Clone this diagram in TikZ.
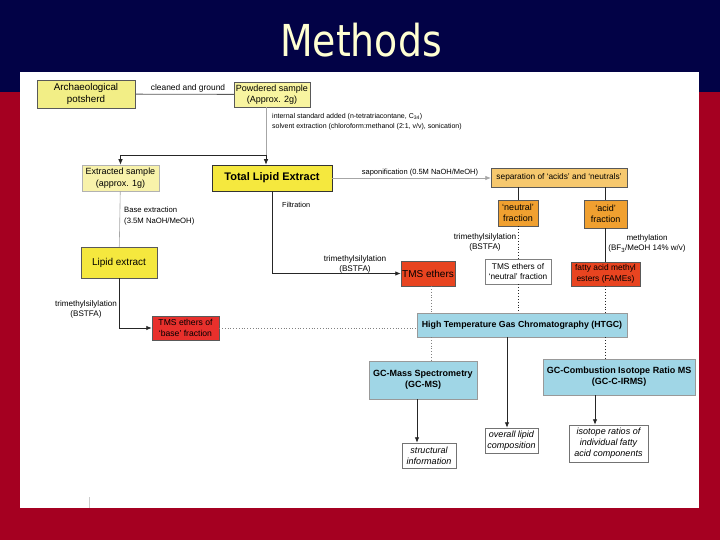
\documentclass[tikz,border=0pt]{standalone}
\usepackage{fontspec}
\setmainfont{Liberation Sans}
\newfontfamily\titlefont[FakeStretch=0.86]{DejaVu Sans}
\usetikzlibrary{arrows.meta, positioning}
\definecolor{navy}{HTML}{020246}
\definecolor{crim}{HTML}{A50021}
\definecolor{ttlcol}{HTML}{FFFFD2}
\definecolor{yelA}{HTML}{F2EE86}
\definecolor{yelB}{HTML}{F8F4A0}
\definecolor{yelC}{HTML}{F8F2AA}
\definecolor{yelD}{HTML}{F5E83E}
\definecolor{orgA}{HTML}{F6C86E}
\definecolor{orgB}{HTML}{F0A030}
\definecolor{redA}{HTML}{E84420}
\definecolor{redB}{HTML}{E8302C}
\definecolor{blu}{HTML}{A0D6E6}
\begin{document}
\begin{tikzpicture}[x=1pt, y=-1pt,
  box/.style={draw=black!65, line width=0.5pt, inner sep=0.5pt, align=center,
              font=\fontsize{9}{11}\selectfont},
  wh/.style 2 args={minimum width=#1pt, minimum height=#2pt},
  res/.style={box, fill=white, draw=black!55, font=\fontsize{9}{11}\selectfont\itshape},
  lbl/.style={inner sep=0pt, align=center, font=\fontsize{7.6}{10}\selectfont},
  arr/.style={-{Latex[length=5.5pt,width=4.5pt]}, line width=0.8pt, black!85},
  ln/.style={line width=0.8pt, black!85},
  gln/.style={line width=0.6pt, gray!70},
  dotgray/.style={dotted, line width=0.8pt, gray},
  dotdark/.style={dotted, line width=0.9pt, black!85}
]
\useasboundingbox (0,0) rectangle (720,540);
% slide background
\fill[navy] (0,0) rectangle (720,92);
\fill[crim] (0,92) rectangle (720,540);
\fill[white] (20,72) rectangle (699,508);
\node[text=ttlcol, anchor=base, font=\titlefont\fontsize{44}{50}\selectfont] (ttl) at (361,57) {Methods};

% sample preparation
\node[box, fill=yelA, wh={98}{28}, font=\fontsize{9.8}{12}\selectfont] (arch) at (86,94) {Archaeological\\potsherd};
\node[box, fill=yelB, wh={76}{25}] (pow) at (272,94.5) {Powdered sample\\(Approx. 2g)};
\node[box, fill=yelC, draw=black!30, wh={77}{26}, font=\fontsize{9}{12}\selectfont] (ext) at (120.5,178) {Extracted sample\\(approx. 1g)};
\node[box, fill=yelD, draw=black!80, wh={120}{26}, font=\fontsize{11}{13}\selectfont\bfseries] (tle) at (272,178) {Total Lipid Extract};
\node[box, fill=yelD, wh={76}{31}, font=\fontsize{10}{12}\selectfont] (lip) at (119,262.5) {Lipid extract};
\node[box, fill=redB, wh={67}{24}, font=\fontsize{8.6}{10.5}\selectfont] (tmsb) at (185.5,328) {TMS ethers of\\`base' fraction};
\node[box, fill=redA, wh={54}{25}, font=\fontsize{10}{12}\selectfont] (tms) at (428,273.5) {TMS ethers};

% acids and neutrals
\node[box, fill=orgA, wh={136}{19}, font=\fontsize{8.3}{10}\selectfont] (sep) at (559,177.5) {separation of `acids' and `neutrals'};
\node[box, fill=orgB, wh={40}{26}] (neu) at (518,213) {`neutral'\\fraction};
\node[box, fill=orgB, wh={43}{28}] (acid) at (605.5,214) {`acid'\\fraction};
\node[box, fill=white, draw=black!50, wh={66}{25}, font=\fontsize{8.3}{10.5}\selectfont] (tmsn) at (518,271.5) {TMS ethers of\\`neutral' fraction};
\node[box, fill=redA, wh={69}{24}, font=\fontsize{8.4}{10.5}\selectfont] (fame) at (605.5,274) {fatty acid methyl\\esters (FAMEs)};

% analysis
\node[box, fill=blu, draw=black!40, wh={210}{24}, font=\fontsize{8.8}{11}\selectfont\bfseries] (htgc) at (522,325) {High Temperature Gas Chromatography (HTGC)};
\node[box, fill=blu, draw=black!40, wh={108}{38}, font=\fontsize{9}{11}\selectfont\bfseries] (gcms) at (423,380) {GC-Mass Spectrometry\\(GC-MS)};
\node[box, fill=blu, draw=black!40, wh={152}{36}, font=\fontsize{9}{11}\selectfont\bfseries] (irms) at (619,377) {GC-Combustion Isotope Ratio MS\\(GC-C-IRMS)};
\node[res, wh={54}{25}] (str) at (429,455.5) {structural\\information};
\node[res, wh={53}{25}] (ovl) at (511.5,440.5) {overall lipid\\composition};
\node[res, wh={79}{37}] (iso) at (608.5,443.5) {isotope ratios of\\individual fatty\\acid components};

% labels
\node[lbl, font=\fontsize{8.4}{10}\selectfont] (cln) at (188,88) {cleaned and ground};
\node[lbl, anchor=north west, align=left, font=\fontsize{7}{10.5}\selectfont] (ist) at (272,113)
  {internal standard added (n-tetratriacontane, C\textsubscript{34})\\solvent extraction (chloroform:methanol (2:1, v/v), sonication)};
\node[lbl, anchor=north west, align=left, font=\fontsize{7.7}{10.5}\selectfont] (bex) at (124,207) {Base extraction\\(3.5M NaOH/MeOH)};
\node[lbl, font=\fontsize{8.1}{10}\selectfont] (trb) at (86,309) {trimethylsilylation\\(BSTFA)};
\node[lbl, anchor=west, font=\fontsize{7.3}{9}\selectfont] (flt) at (282,205) {Filtration};
\node[lbl, font=\fontsize{8.2}{10}\selectfont] (trt) at (355,264) {trimethylsilylation\\(BSTFA)};
\node[lbl, font=\fontsize{7.5}{9}\selectfont] (sap) at (420,173) {saponification (0.5M NaOH/MeOH)};
\node[lbl, font=\fontsize{8.2}{10}\selectfont] (trn) at (485,242.5) {trimethylsilylation\\(BSTFA)};
\node[lbl, font=\fontsize{8}{10.5}\selectfont] (mth) at (647,243.5) {methylation\\(BF\textsubscript{3}/MeOH 14\% w/v)};

% connectors
\coordinate (spl) at (266,155);
\coordinate (tmx) at ([xshift=3pt]tms.south);
\draw[ln, black!65] (arch) -- (pow);
\draw[gln] (pow.south -| spl) -- (spl);
\draw[arr] (spl) -- (spl |- tle.north);
\draw[arr] (spl) -| (ext.north);
\draw[gln] (ext) -- (lip);
\draw[arr] (lip.south) |- (tmsb.west);
\draw[arr] (tle.south) |- (tms.west);
\draw[gln, -{Latex[length=5.5pt,width=4.5pt]}] (tle.east) -- (tle.east -| sep.west);
\draw[ln] (sep.south -| neu) -- (neu.north);
\draw[ln] (sep.south -| acid) -- (acid.north);
\draw[ln] (acid) -- (fame);
\draw[dotdark] (neu) -- (tmsn);
\foreach \a in {tmsn,fame}
  \draw[dotdark] (\a.south) -- (\a.south |- htgc.north);
\draw[dotdark] (fame.south |- htgc.south) -- (fame.south |- irms.north);
\draw[dotgray] (tmsb.east) -- (tmsb.east -| htgc.west);
\draw[dotgray] (tmx) -- (tmx |- htgc.north);
\draw[dotgray] (tmx |- htgc.south) -- (tmx |- gcms.north);
\draw[arr] ([xshift=-15pt]htgc.south) -- ([xshift=-15pt]htgc.south |- ovl.north);
\draw[arr] ([xshift=-6pt]gcms.south) -- ([xshift=-6pt]gcms.south |- str.north);
\draw[arr] ([xshift=-24pt]irms.south) -- ([xshift=-24pt]irms.south |- iso.north);
\draw[gray!40, line width=0.5pt] (89,497) -- (89,508);
\end{tikzpicture}
\end{document}
